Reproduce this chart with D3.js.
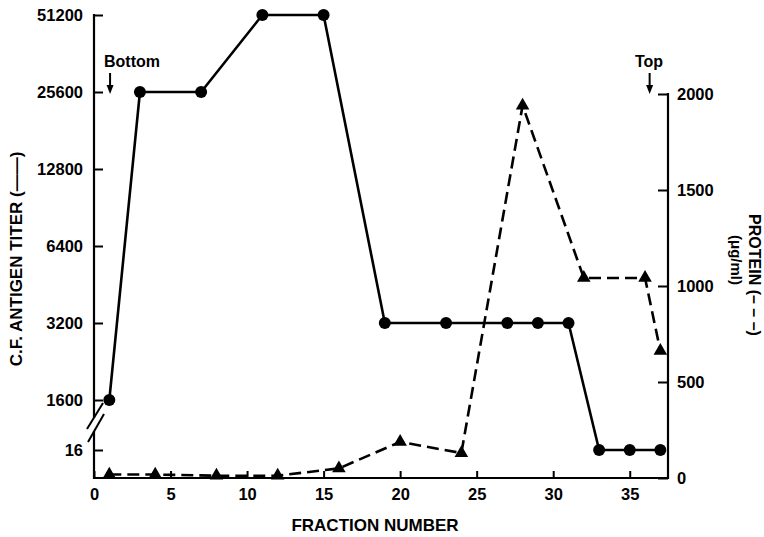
<!DOCTYPE html>
<html lang="en">
<head>
	<meta charset="utf-8" />
	<title>CF antigen titer and protein by fraction</title>
	<script src="https://d3js.org/d3.v7.min.js"></script>
    <style>
        body {
            margin: 0;
            background: white;
        }
        text {
            font-family: "Liberation Sans", Arial, Helvetica, sans-serif;
            font-weight: bold;
            fill: black;
        }
    </style>
</head>
<body>
	<script>
    // titer data (solid line, circles)
    let titerFractions = [1, 3, 7, 11, 15, 19, 23, 27, 29, 31, 33, 35, 37];
    let titerValues = [1600, 25600, 25600, 51200, 51200, 3200, 3200, 3200, 3200, 3200, 16, 16, 16];

    // protein data (dashed line, triangles)
    let proteinFractions = [1, 4, 8, 12, 16, 20, 24, 28, 32, 36, 37];
    let proteinValues = [18, 18, 12, 12, 50, 188, 130, 1940, 1042, 1042, 662];

    // tick labels
    let xTicks = [0, 5, 10, 15, 20, 25, 30, 35];
    let titerTicks = [1600, 3200, 6400, 12800, 25600, 51200];
    let titerLowTicks = [16];
    let proteinTicks = [0, 500, 1000, 1500, 2000];

    let width = 764, height = 537;

    let svg = d3.select("body")
        .append("svg")
        .attr("width", width)
        .attr("height", height);

    // scales
    let x = d3.scaleLinear().domain([0, 37.5]).range([94, 668]);
    let yUpper = d3.scaleLog().base(2).domain([1600, 51200]).range([400, 15]);
    let yLower = d3.scaleLinear().domain([0, 16]).range([478, 450]);
    let yTiter = function(v) {
        return v >= 1600 ? yUpper(v) : yLower(v);
    };
    let yProtein = d3.scaleLinear().domain([0, 2000]).range([478, 94]);

    let fontSize = "16.5px";

    // left axis, upper part (log) and lower part below the break
    let leftAxis = svg.append("g").attr("transform", "translate(94,0)");
    leftAxis.append("g")
        .call(d3.axisLeft(yUpper).tickValues(titerTicks).tickFormat(d3.format("d"))
            .tickSize(-9).tickPadding(11))
        .call(g => g.select(".domain").remove());
    leftAxis.append("g")
        .call(d3.axisLeft(yLower).tickValues(titerLowTicks).tickFormat(d3.format("d"))
            .tickSize(-9).tickPadding(11))
        .call(g => g.select(".domain").remove());
    leftAxis.selectAll("text").style("font-size", fontSize);
    leftAxis.selectAll("line").attr("stroke-width", 2);

    // left axis line with gap at the break
    svg.append("line").attr("x1", 94).attr("x2", 94).attr("y1", 14).attr("y2", 418)
        .attr("stroke", "black").attr("stroke-width", 2.2);
    svg.append("line").attr("x1", 94).attr("x2", 94).attr("y1", 431).attr("y2", 479)
        .attr("stroke", "black").attr("stroke-width", 2.2);
    // break marks
    svg.append("line").attr("x1", 103).attr("y1", 403).attr("x2", 87).attr("y2", 429)
        .attr("stroke", "black").attr("stroke-width", 2);
    svg.append("line").attr("x1", 104).attr("y1", 414).attr("x2", 88).attr("y2", 442)
        .attr("stroke", "black").attr("stroke-width", 2);

    // right axis
    let rightAxis = svg.append("g")
        .attr("transform", "translate(668,0)")
        .call(d3.axisRight(yProtein).tickValues(proteinTicks).tickFormat(d3.format("d"))
            .tickSize(-10).tickPadding(9));
    rightAxis.select(".domain").remove();
    rightAxis.selectAll("text").style("font-size", fontSize);
    rightAxis.selectAll("line").attr("stroke-width", 2);
    svg.append("line").attr("x1", 668).attr("x2", 668).attr("y1", 93).attr("y2", 479)
        .attr("stroke", "black").attr("stroke-width", 2.2);

    // bottom axis
    let bottomAxis = svg.append("g")
        .attr("transform", "translate(0,478)")
        .call(d3.axisBottom(x).tickValues(xTicks).tickSize(-7).tickPadding(10));
    bottomAxis.select(".domain").remove();
    bottomAxis.selectAll("text").style("font-size", fontSize);
    bottomAxis.selectAll("line").attr("stroke-width", 2);
    svg.append("line").attr("x1", 93).attr("x2", 669).attr("y1", 478).attr("y2", 478)
        .attr("stroke", "black").attr("stroke-width", 2.2);

    // protein line (dashed)
    let proteinData = proteinFractions.map((f, i) => ({ x: f, y: proteinValues[i] }));
    svg.append("path")
        .datum(proteinData)
        .attr("fill", "none")
        .attr("stroke", "black")
        .attr("stroke-width", 2.6)
        .attr("stroke-dasharray", "12,6")
        .attr("d", d3.line().x(d => x(d.x)).y(d => yProtein(d.y)));

    svg.selectAll("path.tri")
        .data(proteinData)
        .enter()
        .append("path")
        .attr("class", "tri")
        .attr("d", d3.symbol(d3.symbolTriangle, 80))
        .attr("transform", d => "translate(" + x(d.x) + "," + yProtein(d.y) + ")")
        .attr("fill", "black");

    // titer line (solid)
    let titerData = titerFractions.map((f, i) => ({ x: f, y: titerValues[i] }));
    svg.append("path")
        .datum(titerData)
        .attr("fill", "none")
        .attr("stroke", "black")
        .attr("stroke-width", 2.6)
        .attr("d", d3.line().x(d => x(d.x)).y(d => yTiter(d.y)));

    svg.selectAll("circle.dot")
        .data(titerData)
        .enter()
        .append("circle")
        .attr("class", "dot")
        .attr("cx", d => x(d.x))
        .attr("cy", d => yTiter(d.y))
        .attr("r", 6)
        .attr("fill", "black");

    // axis titles
    svg.append("text")
        .attr("x", 375)
        .attr("y", 531)
        .attr("text-anchor", "middle")
        .style("font-size", "17px")
        .text("FRACTION NUMBER");

    svg.append("text")
        .attr("transform", "translate(22,259) rotate(-90)")
        .attr("text-anchor", "middle")
        .style("font-size", "17px")
        .text("C.F. ANTIGEN TITER (\u2014\u2014)");

    svg.append("text")
        .attr("transform", "translate(749,275) rotate(90)")
        .attr("text-anchor", "middle")
        .style("font-size", "16px")
        .text("PROTEIN (\u2013 \u2013 \u2013)");

    svg.append("text")
        .attr("transform", "translate(731,260) rotate(90)")
        .attr("text-anchor", "middle")
        .style("font-size", "15px")
        .text("(\u03bcg/ml)");

    // bottom / top markers
    function marker(label, cx, textX) {
        svg.append("text")
            .attr("x", textX)
            .attr("y", 67)
            .style("font-size", "16px")
            .text(label);
        svg.append("line")
            .attr("x1", cx).attr("x2", cx)
            .attr("y1", 73).attr("y2", 87)
            .attr("stroke", "black").attr("stroke-width", 2);
        svg.append("path")
            .attr("d", "M" + (cx - 3.5) + ",85 L" + (cx + 3.5) + ",85 L" + cx + ",94 Z")
            .attr("fill", "black");
    }
    marker("Bottom", x(1.05), 104);
    marker("Top", x(36.3), 635);
	</script>
</body>
</html>
